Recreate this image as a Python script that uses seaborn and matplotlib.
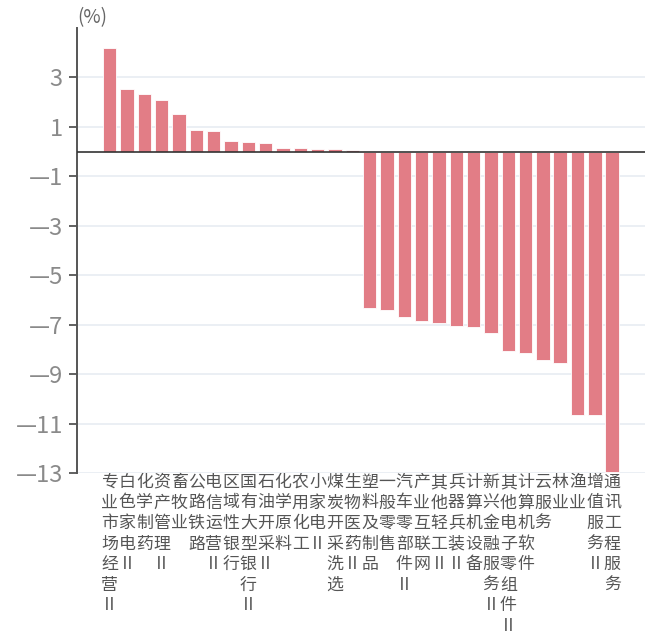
import seaborn as sns
import pandas as pd
import matplotlib
matplotlib.use("Agg")
import matplotlib.pyplot as plt

# industries (ordered as in the chart) and their returns in %
industries = ["专业市场经营Ⅱ", "白色家电Ⅱ", "化学制药", "资产管理Ⅱ", "畜牧业",
              "公路铁路", "电信运营Ⅱ", "区域性银行", "国有大型银行Ⅱ", "石油开采Ⅱ",
              "化学原料", "农用化工", "小家电Ⅱ", "煤炭开采洗选", "生物医药Ⅱ",
              "塑料及制品", "一般零售", "汽车零部件Ⅱ", "产业互联网", "其他轻工Ⅱ",
              "兵器兵装Ⅱ", "计算机设备", "新兴金融服务Ⅱ", "其他电子零组件Ⅱ", "计算机软件",
              "云服务", "林业", "渔业", "增值服务Ⅱ", "通讯工程服务"]
returns = [4.19, 2.52, 2.34, 2.07, 1.54,
           0.89, 0.83, 0.42, 0.37, 0.34,
           0.16, 0.14, 0.11, 0.09, 0.06,
           -6.32, -6.40, -6.67, -6.86, -6.94,
           -7.04, -7.09, -7.34, -8.05, -8.14,
           -8.41, -8.56, -10.67, -10.67, -12.97]
y_ticks = [-13, -11, -9, -7, -5, -3, -1, 1, 3]

sns.set_style("white")
plt.rcParams['font.family'] = ['Noto Sans CJK SC', 'DejaVu Sans']

df = pd.DataFrame({"industry": industries, "ret": returns})

fig = plt.figure(figsize=(6.51, 6.37), dpi=100)
ax = fig.add_axes([0.118, 0.2575, 0.873, 0.6985])

sns.barplot(data=df, x="industry", y="ret", color="#E27D86", saturation=1,
            width=0.78, edgecolor="white", linewidth=0.6, ax=ax, zorder=3)

ax.set_ylim(-13, 5)
ax.set_xlim(-1.9, len(industries) - 1 + 1.9)
ax.set_yticks(y_ticks)
ax.set_yticklabels([f"{t}".replace("-", "\u2014") for t in y_ticks],
                   color="#8a8a8a", fontsize=17, fontweight="light")
for t in y_ticks:
    ax.axhline(t, color="#e8ecf2", lw=1.2, zorder=1)
ax.axhline(0, color="#333333", lw=1.2, zorder=4)

ax.set_xticks(range(len(industries)))
ax.set_xticklabels(["\n".join(s) for s in industries], rotation=0,
                   fontsize=12.2, color="#555555", va="top", linespacing=1.18,
                   fontweight="light")
ax.tick_params(axis="x", length=0, pad=0)
ax.tick_params(axis="y", length=6, width=1.3, color="#555555", direction="out", pad=4, left=True)

for s in ["top", "right", "bottom"]:
    ax.spines[s].set_visible(False)
ax.spines["left"].set_color("#555555")
ax.spines["left"].set_linewidth(1.4)
ax.set_xlabel("")
ax.set_ylabel("")
fig.text(0.118, 0.973, "(%)", fontsize=13.5, color="#666666", ha="left", va="center",
         fontweight="light")

fig.savefig("out.png", dpi=100)
